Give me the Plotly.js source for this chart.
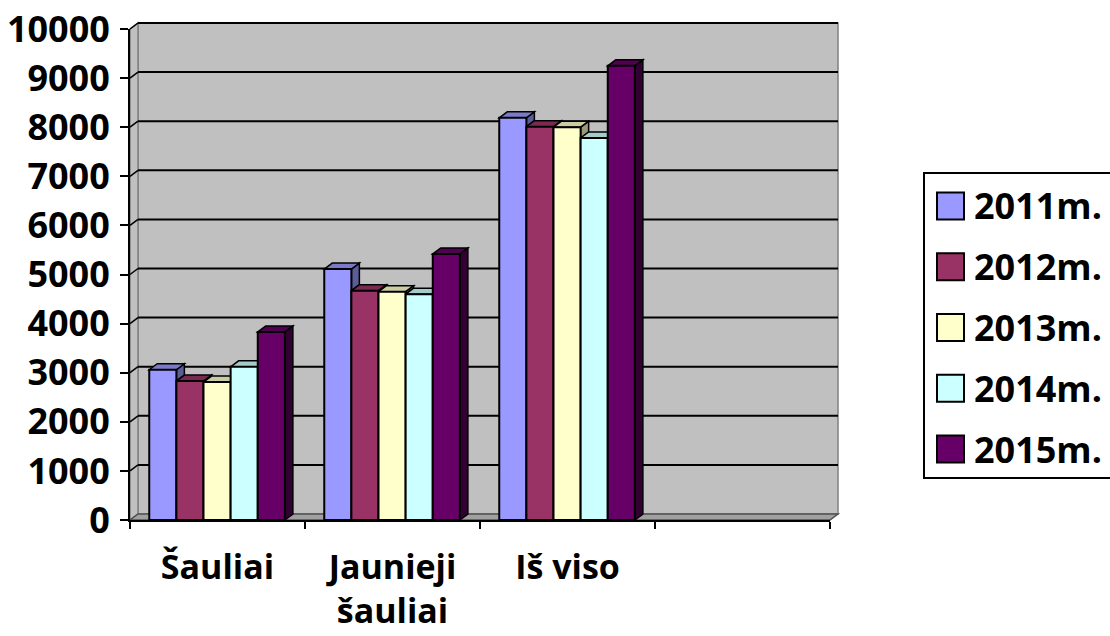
<!DOCTYPE html>
<html><head><meta charset="utf-8">
<script src="https://cdn.plot.ly/plotly-3.0.1.min.js"></script>
<style>html,body{margin:0;padding:0;background:#fff}#chart{width:1110px;height:636px}</style>
</head><body><div id="chart"></div>
<script>
// ---- data ----
const categories = ['Šauliai', 'Jaunieji<br>šauliai', 'Iš viso'];
const seriesNames = ['2011m.', '2012m.', '2013m.', '2014m.', '2015m.'];
const v2011 = [3060, 5110, 8190];
const v2012 = [2830, 4670, 8010];
const v2013 = [2810, 4650, 8000];
const v2014 = [3120, 4600, 7780];
const v2015 = [3830, 5420, 9250];
const yTickVals = [0, 1000, 2000, 3000, 4000, 5000, 6000, 7000, 8000, 9000, 10000];
const yTickText = ['0', '1000', '2000', '3000', '4000', '5000', '6000', '7000', '8000', '9000', '10000'];

const seriesValues = [v2011, v2012, v2013, v2014, v2015];
const frontColors = ['#9999FF', '#993366', '#FFFFCC', '#CCFFFF', '#660066'];
const topColors   = ['#7A7AC9', '#7A2952', '#CCCCA3', '#A3CCCC', '#520052'];
const sideColors  = ['#5C5C99', '#5C1F3D', '#99997A', '#7A9999', '#330033'];

// ---- geometry ----
const W = 1110, H = 636, L = 130, R = 280, T = 29, B = 116;
const plotW = W - L - R, plotH = H - T - B;
const xMin = -0.5, xMax = 3.5, yMax = 10000;
const DX = 8, DY = 6; // 3D depth in px
const dxD = DX * (xMax - xMin) / plotW;
const dyD = DY * yMax / plotH;
const dxP = DX / plotW, dyP = DY / plotH;
const BW = 0.155, OFF0 = -0.39;
const xp = px => (px - L) / plotW;
const yp = py => (T + plotH - py) / plotH;
const YFONT = {family: 'Open Sans', size: 36, weight: 'bold', color: '#000'};
const XFONT = {family: 'Open Sans', size: 34, weight: 'bold', color: '#000'};
const LFONT = {family: 'Open Sans', size: 36, weight: 'bold', color: '#000'};

const xIdx = categories.map((c, i) => i);

const traces = seriesValues.map((vals, j) => ({
  type: 'bar', x: xIdx, y: vals, name: seriesNames[j],
  width: BW, offset: OFF0 + j * BW,
  marker: {color: frontColors[j], line: {color: '#000', width: 2}},
  showlegend: false, hoverinfo: 'skip'
}));

const shapes = [];
// back wall, left wall, floor
shapes.push({type: 'rect', xref: 'paper', yref: 'paper', layer: 'below',
  x0: dxP, x1: 1 + dxP, y0: dyP, y1: 1 + dyP,
  fillcolor: '#C0C0C0', line: {color: '#808080', width: 1.5}});
shapes.push({type: 'path', xref: 'paper', yref: 'paper', layer: 'below',
  path: `M0,0 L${dxP},${dyP} L${dxP},${1 + dyP} L0,1 Z`,
  fillcolor: '#C0C0C0', line: {color: '#808080', width: 1.5}});
shapes.push({type: 'path', xref: 'paper', yref: 'paper', layer: 'below',
  path: `M0,0 L1,0 L${1 + dxP},${dyP} L${dxP},${dyP} Z`,
  fillcolor: '#A0A0A0', line: {color: '#505050', width: 1.5}});
// gridlines on walls
yTickVals.forEach(v => {
  if (v === 0) return;
  const f = v / yMax;
  shapes.push({type: 'line', xref: 'paper', yref: 'paper', layer: 'below',
    x0: dxP, x1: 1 + dxP, y0: f + dyP, y1: f + dyP, line: {color: '#000', width: 2}});
  shapes.push({type: 'line', xref: 'paper', yref: 'paper', layer: 'below',
    x0: 0, x1: dxP, y0: f, y1: f + dyP, line: {color: '#000', width: 1.5}});
});
// bar 3D faces
xIdx.forEach(i => {
  seriesValues.forEach((vals, j) => {
    const x0 = i + OFF0 + j * BW, x1 = x0 + BW, y = vals[i];
    const lo = j < seriesValues.length - 1 ? seriesValues[j + 1][i] : 0;
    if (lo < y) {
      shapes.push({type: 'path', xref: 'x', yref: 'y', layer: 'below',
        path: `M${x1},${lo} L${x1},${y} L${x1 + dxD},${y + dyD} L${x1 + dxD},${lo + dyD} Z`,
        fillcolor: sideColors[j], line: {color: '#000', width: 1.5}});
    }
    shapes.push({type: 'path', xref: 'x', yref: 'y', layer: 'below',
      path: `M${x0},${y} L${x0 + dxD},${y + dyD} L${x1 + dxD},${y + dyD} L${x1},${y} Z`,
      fillcolor: topColors[j], line: {color: '#000', width: 1.5}});
  });
});
// legend (manual, to match large swatches)
shapes.push({type: 'rect', xref: 'paper', yref: 'paper', layer: 'above',
  x0: xp(924), x1: xp(1130), y0: yp(478), y1: yp(173),
  fillcolor: '#fff', line: {color: '#000', width: 2}});
const annotations = [];
seriesNames.forEach((nm, j) => {
  const cy = 206 + 60.75 * j;
  shapes.push({type: 'rect', xref: 'paper', yref: 'paper', layer: 'above',
    x0: xp(937), x1: xp(964), y0: yp(cy + 13.5), y1: yp(cy - 13.5),
    fillcolor: frontColors[j], line: {color: '#000', width: 2}});
  annotations.push({xref: 'paper', yref: 'paper', x: xp(972), y: yp(cy),
    xanchor: 'left', yanchor: 'middle', showarrow: false, text: nm, font: LFONT});
});

const layout = {
  width: W, height: H,
  margin: {l: L, r: R, t: T, b: B, pad: 0},
  paper_bgcolor: '#fff', plot_bgcolor: 'rgba(0,0,0,0)',
  barmode: 'overlay', showlegend: false,
  xaxis: {range: [xMin, xMax], tickvals: xIdx, ticktext: categories,
    ticks: '', showline: true, linecolor: '#000', linewidth: 2,
    showgrid: false, zeroline: false, tickfont: XFONT, ticklabelstandoff: 16,
    minor: {tickvals: [-0.5, 0.5, 1.5, 2.5, 3.5], ticks: 'outside', ticklen: 7,
      tickwidth: 2, tickcolor: '#000', showgrid: false}, fixedrange: true},
  yaxis: {range: [0, yMax], tickvals: yTickVals, ticktext: yTickText, ticks: 'outside', ticklen: 8,
    tickwidth: 2, tickcolor: '#000', showline: true, linecolor: '#000', linewidth: 2,
    showgrid: false, zeroline: false, tickfont: YFONT, ticklabelstandoff: 3, fixedrange: true},
  shapes: shapes, annotations: annotations
};
Plotly.newPlot('chart', traces, layout, {displayModeBar: false, staticPlot: true});
</script></body></html>
